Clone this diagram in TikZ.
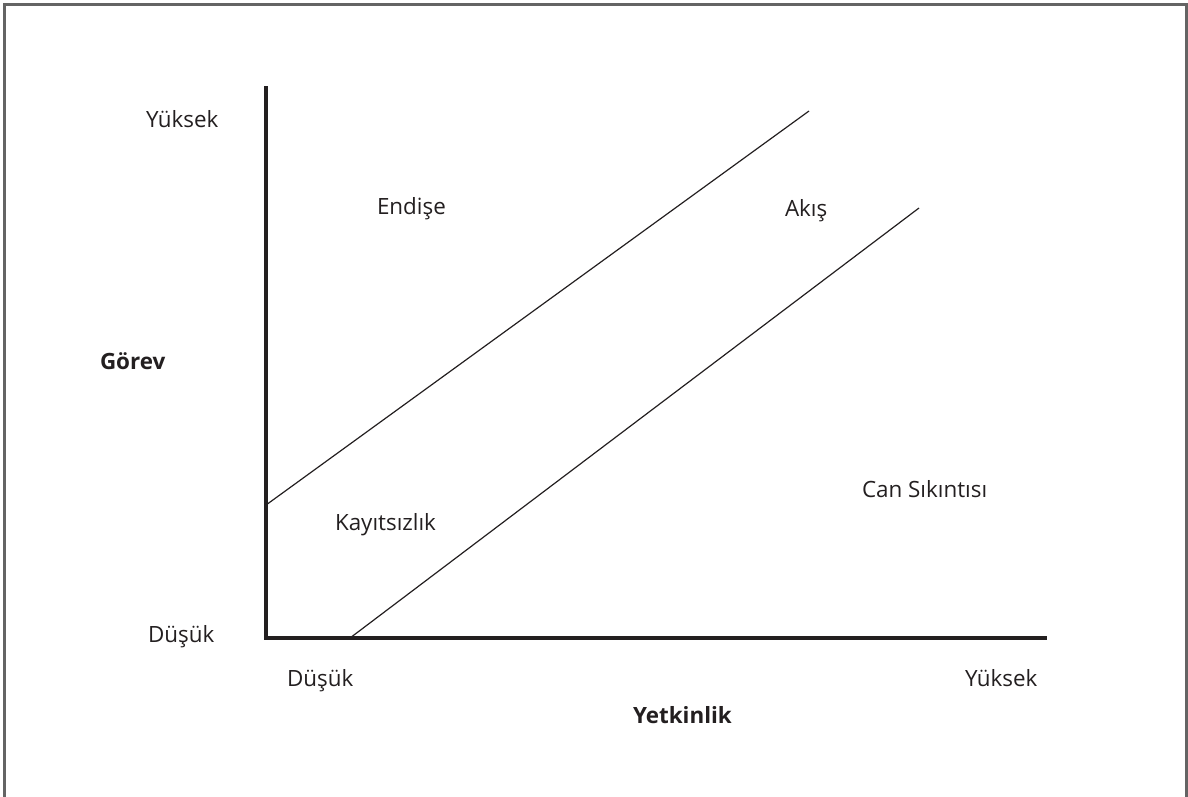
\documentclass[tikz,border=0pt]{standalone}
\usepackage{fontspec}
\setmainfont{Open Sans}
\definecolor{txt}{RGB}{35,31,32}
\definecolor{frame}{RGB}{100,100,100}
\begin{document}
\begin{tikzpicture}[x=0.75pt,y=-0.75pt,
  lbl/.style={anchor=base west,inner sep=0pt,outer sep=0pt,text=txt,font=\fontsize{16.8pt}{20pt}\selectfont},
  blbl/.style={lbl,font=\fontsize{16.8pt}{20pt}\selectfont\bfseries},
  axisline/.style={line width=2.3pt,draw=txt,line join=miter,line cap=rect},
  zoneline/.style={line width=0.9pt,draw=txt}]
\useasboundingbox (0,0) rectangle (1188,796);
\begin{scope}
\clip (0,0) rectangle (1188,796);
\draw[frame,line width=1.6pt] (4.5,4.5) rectangle (1186.5,802);
\end{scope}
% axes
\coordinate (o) at (266,638);
\coordinate (ytop) at (266,88);
\coordinate (xend) at (1045,638);
\draw[axisline] (ytop) -- (o) -- (xend);
% zone lines
\coordinate (a1) at (266,505);
\coordinate (b1) at (809,111);
\coordinate (a2) at (350,638);
\coordinate (b2) at (919,208);
\draw[zoneline] (a1) -- (b1);
\draw[zoneline] (a2) -- (b2);
% labels
\node[lbl] (yhigh) at (146,127) {Yüksek};
\node[lbl] (ylow) at (148,642) {Düşük};
\node[blbl] (gorev) at (100,369) {Görev};
\node[lbl] (endise) at (377,214) {Endişe};
\node[lbl] (akis) at (785,216) {Akış};
\node[lbl] (kayit) at (335,530) {Kayıtsızlık};
\node[lbl] (can) at (862,497) {Can Sıkıntısı};
\node[lbl] (xlow) at (287,686) {Düşük};
\node[lbl] (xhigh) at (965,686) {Yüksek};
\node[blbl] (yetk) at (633,723) {Yetkinlik};
\end{tikzpicture}
\end{document}
